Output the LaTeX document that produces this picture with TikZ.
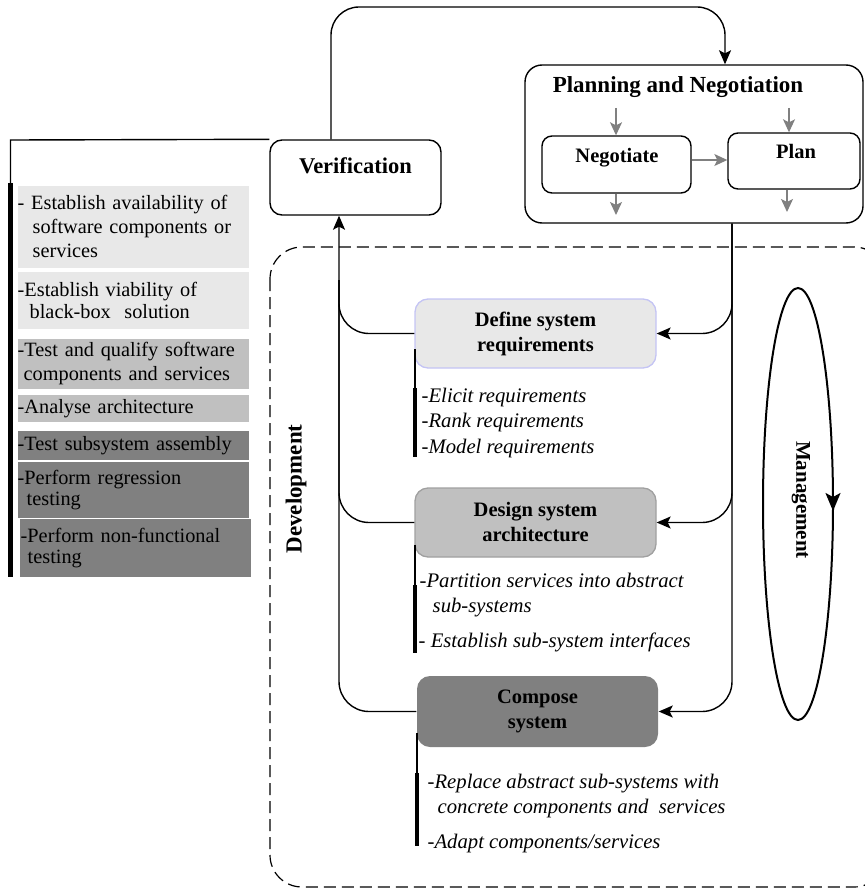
\documentclass[tikz,border=0pt]{standalone}
\usepackage{fontspec}
\setmainfont{Liberation Serif}
\usetikzlibrary{arrows.meta}
\definecolor{shadeA}{HTML}{E8E8E8}
\definecolor{shadeB}{HTML}{C0C0C0}
\definecolor{shadeC}{HTML}{808080}
\definecolor{edgeA}{HTML}{C4C4F4}
\definecolor{edgeB}{HTML}{A0A0A0}
\definecolor{tipgray}{HTML}{808080}
\begin{document}
\begin{tikzpicture}[x=1pt,y=-1pt,
  line width=1.4pt,
  arr/.style={-{Stealth[length=14pt,width=12pt,inset=3pt]}},
  garr/.style={draw=tipgray,line width=1.4pt,-{Stealth[length=13pt,width=12pt,inset=3pt]}},
  rbox/.style={draw,line width=1.4pt,inner sep=0pt},
  stage/.style={rounded corners=13pt,inner sep=0pt,minimum width=241pt,align=center,
    font=\fontsize{20.5}{25}\selectfont\bfseries},
  lbox/.style={anchor=north west,inner xsep=0pt,inner ysep=0pt,text width=231pt,
    minimum width=231pt,align=left},
  lfont/.style={font=\fontsize{20.3}{#1}\selectfont},
  task/.style={anchor=base west,inner sep=0pt,font=\fontsize{20.7}{25}\selectfont\itshape},
  bar/.style={line width=4.6pt},
  btext/.style={anchor=base,inner sep=0pt}]
\useasboundingbox (0,0) rectangle (864,888);

% development frame
\draw[dash pattern=on 12pt off 6pt,line width=1.2pt,rounded corners=32pt]
  (270,247) rectangle (886,887);
\node[inner sep=0pt,rotate=90,font=\fontsize{23}{26}\selectfont\bfseries] (devl) at (296,489) {Development};

% verification
\node[rbox,rounded corners=12pt,minimum width=171pt,minimum height=75pt] (ver) at (355.5,177.5) {};
\node[btext,font=\fontsize{22.5}{26}\selectfont\bfseries] (vert) at (355.5,173) {Verification};

% planning and negotiation
\node[rbox,rounded corners=17pt,minimum width=338pt,minimum height=158pt] (pn) at (694,144) {};
\node[btext,font=\fontsize{23}{26}\selectfont\bfseries] (pnt) at (678,93) {Planning and Negotiation};
\node[rbox,rounded corners=10pt,minimum width=149pt,minimum height=57pt] (neg) at (616.5,164.5) {};
\node[btext,font=\fontsize{20.5}{24}\selectfont\bfseries] (negt) at (617,162) {Negotiate};
\node[rbox,rounded corners=10pt,minimum width=132pt,minimum height=56pt] (plan) at (794,161) {};
\node[btext,font=\fontsize{20.5}{24}\selectfont\bfseries] (plant) at (796,158) {Plan};

\coordinate (negin) at (616,108);
\coordinate (planin) at (789,108);
\coordinate (negout) at (616,215);
\coordinate (planout) at (787,212);
\coordinate (np) at (0,160);
\draw[garr] (negin) -- (negin |- neg.north);
\draw[garr] (planin) -- (planin |- plan.north);
\draw[garr] (neg.south -| negin) -- (negout);
\draw[garr] (plan.south -| planout) -- (planout);
\draw[garr] (neg.east |- np) -- (plan.west |- np);

% feedback from verification to planning
\coordinate (loopl) at (331,7);
\coordinate (loopr) at (725,7);
\draw[arr,rounded corners=28pt] (ver.north -| loopl) -- (loopl) -- (loopr) -- (pn.north -| loopr);

% development stages
\node[stage,fill=shadeA,draw=edgeA,line width=1.3pt,minimum height=69pt] (def) at (535.5,333.5)
  {Define system\\requirements};
\node[stage,fill=shadeB,draw=edgeB,line width=1.3pt,minimum height=69pt] (des) at (535.5,522.5)
  {Design system\\architecture};
\node[stage,fill=shadeC,minimum height=71pt] (comp) at (537.5,711.5)
  {Compose\\system};

% plans feed every stage
\coordinate (rline) at (732,223);
\draw[arr,rounded corners=30pt] (pn.south -| rline) |- (def.east);
\draw[arr,rounded corners=30pt] (pn.south -| rline) |- (des.east);
\draw[arr,rounded corners=30pt] (pn.south -| rline) |- (comp.east);

% stage results go to verification
\coordinate (lline) at (339,280);
\draw[rounded corners=30pt] (def.west) -| (lline);
\draw[rounded corners=30pt] (des.west) -| (lline);
\draw[arr,rounded corners=30pt] (comp.west) -| (ver.south -| lline);

% management cycle
\draw[line width=2pt] (798,504) ellipse [x radius=35pt, y radius=216pt];
\coordinate (mgtop) at (833,490);
\coordinate (mgtip) at (833,511);
\draw[line width=2pt,-{Stealth[length=18pt,width=15pt,inset=4pt]}] (mgtop) -- (mgtip);
\node[inner sep=0pt,rotate=-90,font=\fontsize{21}{24}\selectfont\bfseries] (mgmt) at (801,500) {Management};

% verification activities
\coordinate (vlt) at (10.5,140);
\coordinate (vlb) at (10.5,183);
\coordinate (vle) at (10.5,577);
\draw (ver.north west) -- (vlt) -- (vlb);
\draw[bar] (vlb) -- (vle);
\node[lbox,lfont=24,fill=shadeA,minimum height=82pt] (va1) at (17,185)
  {- Establish availability of\\\hspace*{15pt}software components or\\\hspace*{15pt}services};
\node[lbox,lfont=22,fill=shadeA,minimum height=57pt] (va2) at (17,271)
  {-Establish viability of\\\hspace*{12pt}black-box\ \ solution};
\node[lbox,lfont=24,fill=shadeB,minimum height=50pt] (va3) at (17,338)
  {-Test and qualify software\\\hspace*{6pt}components and services};
\node[lbox,lfont=24,fill=shadeB,minimum height=27pt] (va4) at (17,394)
  {-Analyse architecture};
\node[lbox,lfont=24,fill=shadeC,minimum height=29pt] (va5) at (17,430)
  {-Test subsystem assembly};
\node[lbox,lfont=21,fill=shadeC,minimum height=56pt] (va6) at (17,461)
  {-Perform regression\\\hspace*{9pt}testing};
\node[lbox,lfont=21,fill=shadeC,minimum height=58pt] (va7) at (19,518)
  {\hspace*{1pt}-Perform non-functional\\\hspace*{8pt}testing};

% stage activities
\coordinate (da) at (415,349); \coordinate (db) at (415,388); \coordinate (dc) at (415,457);
\draw (da) -- (db); \draw[bar] (db) -- (dc);
\node[task] (d1) at (421,402) {-Elicit requirements};
\node[task] (d2) at (421,427) {-Rank requirements};
\node[task] (d3) at (421,453) {-Model requirements};

\coordinate (ea) at (415,545); \coordinate (eb) at (415,585); \coordinate (ec) at (415,653);
\draw (ea) -- (eb); \draw[bar] (eb) -- (ec);
\node[task] (e1) at (419,587) {-Partition services into abstract};
\node[task] (e2) at (432,612) {sub-systems};
\node[task] (e3) at (418,647) {-\ Establish sub-system interfaces};

\coordinate (ca) at (417,733); \coordinate (cb) at (417,773); \coordinate (cc) at (417,846);
\draw (ca) -- (cb); \draw[bar] (cb) -- (cc);
\node[task] (c1) at (427,788) {-Replace abstract sub-systems with};
\node[task] (c2) at (437,813) {concrete components and\ \ services};
\node[task] (c3) at (427,848) {-Adapt components/services};
\end{tikzpicture}
\end{document}
